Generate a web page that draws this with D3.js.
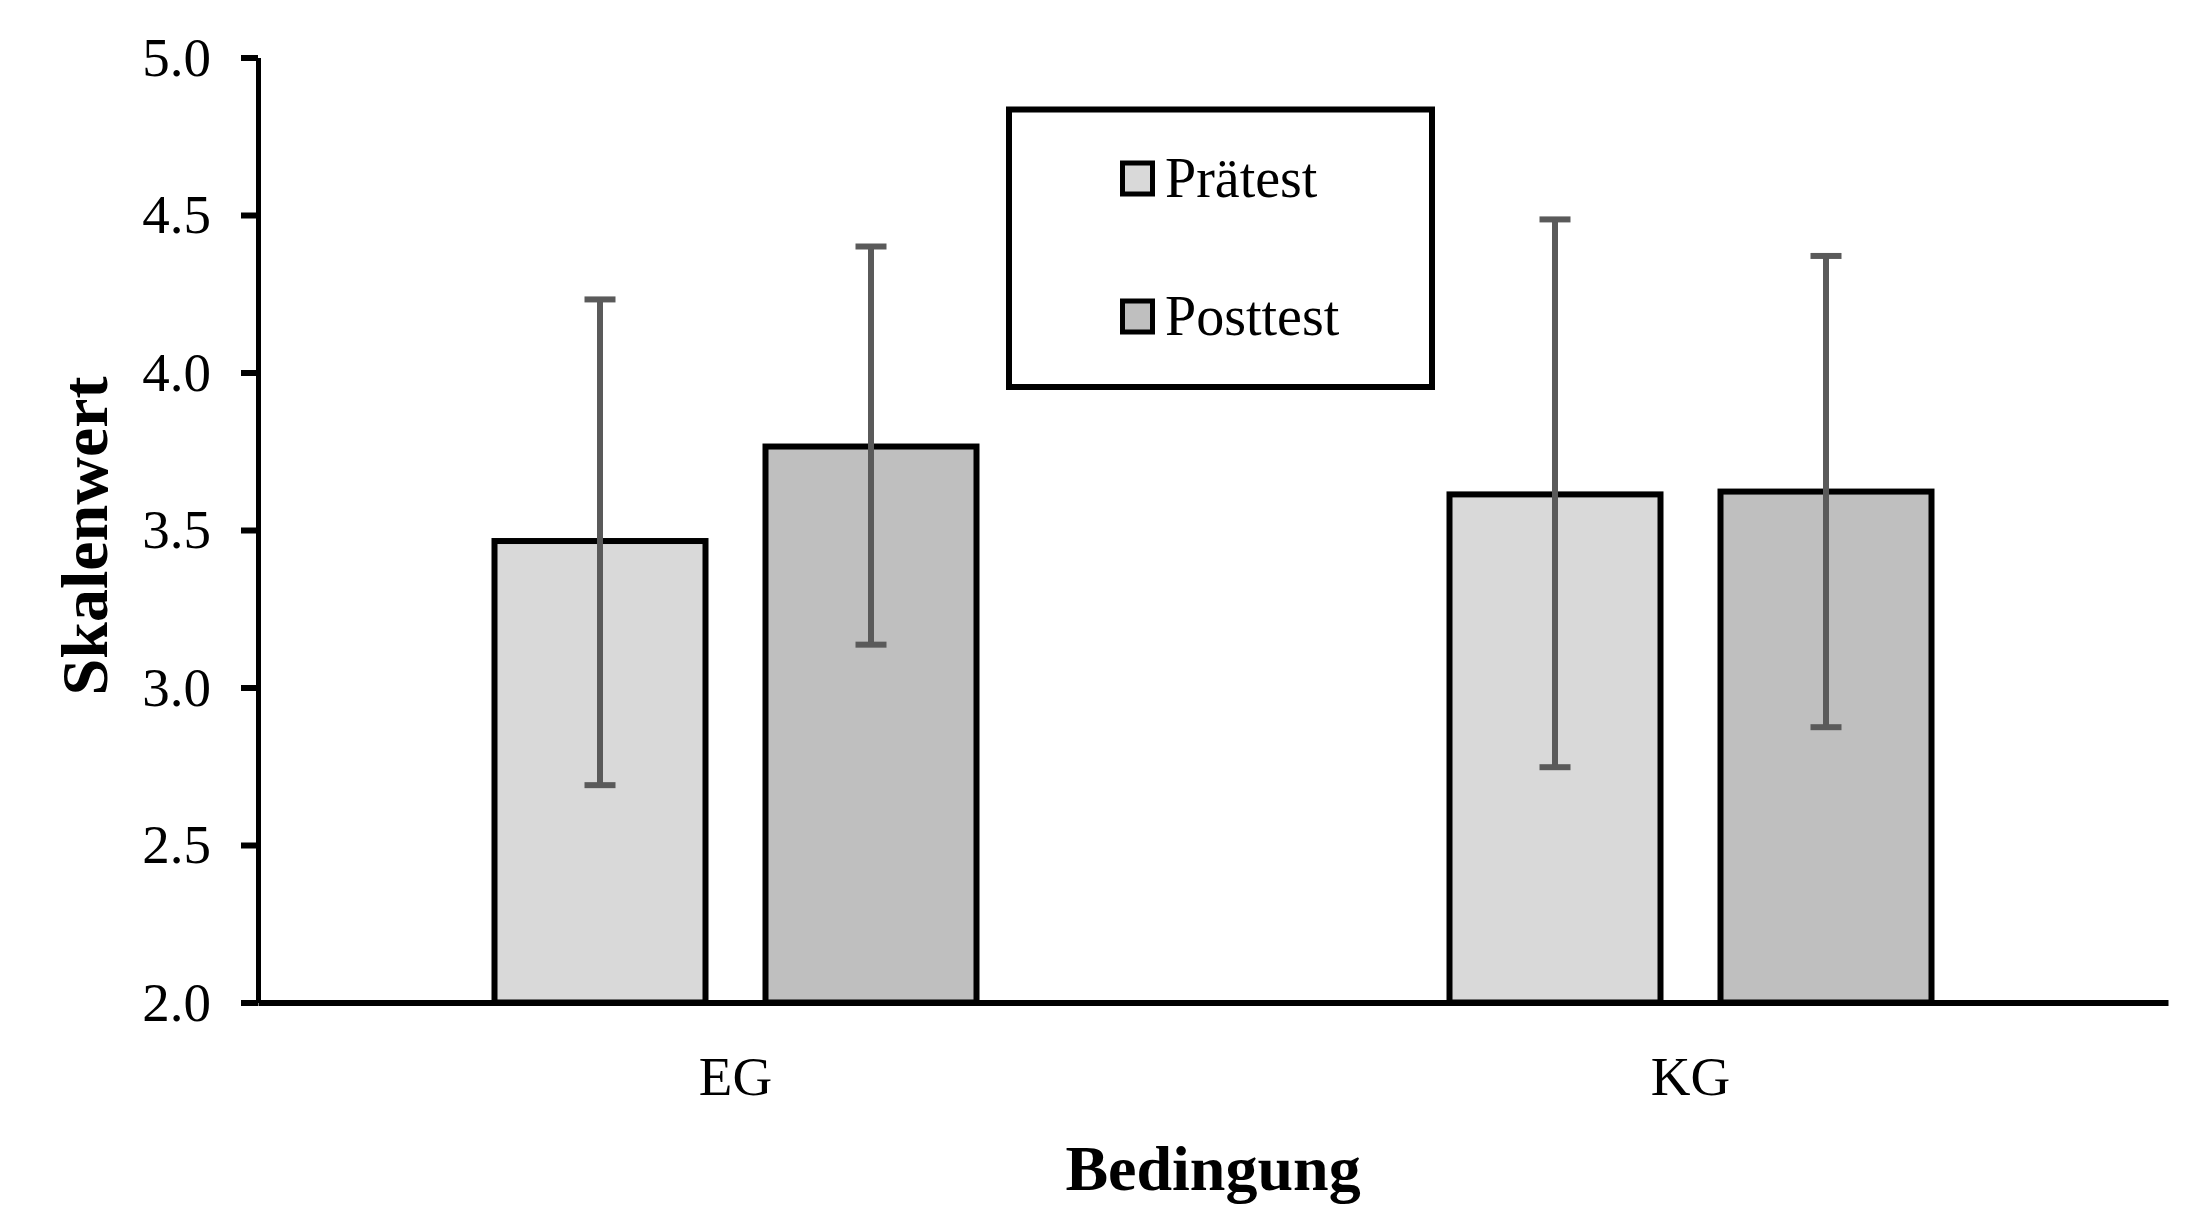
<!DOCTYPE html>
<html>
<head>
<meta charset="utf-8">
<script src="https://cdn.jsdelivr.net/npm/d3@7"></script>
<style>
  html, body { margin: 0; padding: 0; background: #fff; }
  svg { display: block; }
  text { font-family: "Liberation Serif", "Times New Roman", serif; fill: #000; }
</style>
</head>
<body>
<svg id="chart" width="2199" height="1207"></svg>
<script>
// ---- data ----
const categories = ["EG", "KG"];
const seriesNames = ["Prätest", "Posttest"];
const seriesColors = ["#d9d9d9", "#bfbfbf"];
const meanPre = [3.465, 3.613];
const meanPost = [3.765, 3.622];
const lowPre = [2.69, 2.747];
const lowPost = [3.136, 2.874];
const highPre = [4.232, 4.486];
const highPost = [4.40, 4.37];
const yTicks = [2.0, 2.5, 3.0, 3.5, 4.0, 4.5, 5.0];
const xTitle = "Bedingung";
const yTitle = "Skalenwert";

const rows = [];
categories.forEach((c, i) => {
  rows.push({cat: c, series: seriesNames[0], v: meanPre[i], lo: lowPre[i], hi: highPre[i]});
  rows.push({cat: c, series: seriesNames[1], v: meanPost[i], lo: lowPost[i], hi: highPost[i]});
});

const svg = d3.select("#chart");

const plotLeft = 258, plotRight = 2168, plotTop = 57.5, plotBottom = 1002.5;

const x = d3.scaleBand().domain(categories).range([plotLeft, plotRight]).padding(0);
const xInner = d3.scaleBand().domain(seriesNames).range([-241, 241]).paddingInner(60 / 271).paddingOuter(0);
const y = d3.scaleLinear().domain([2, 5]).range([plotBottom, plotTop]);
const color = d3.scaleOrdinal().domain(seriesNames).range(seriesColors);

// bars
svg.append("g").selectAll("rect").data(rows).join("rect")
  .attr("x", d => x(d.cat) + x.bandwidth() / 2 + xInner(d.series))
  .attr("y", d => y(d.v))
  .attr("width", xInner.bandwidth())
  .attr("height", d => y(2) - y(d.v))
  .attr("fill", d => color(d.series))
  .attr("stroke", "#000")
  .attr("stroke-width", 6);

// error bars
const eg = svg.append("g").attr("stroke", "#5a5a5a").attr("stroke-width", 6);
const cx = d => x(d.cat) + x.bandwidth() / 2 + xInner(d.series) + xInner.bandwidth() / 2;
eg.selectAll("line.v").data(rows).join("line").attr("class", "v")
  .attr("x1", cx).attr("x2", cx)
  .attr("y1", d => y(d.lo)).attr("y2", d => y(d.hi));
eg.selectAll("line.t").data(rows).join("line").attr("class", "t")
  .attr("x1", d => cx(d) - 15.5).attr("x2", d => cx(d) + 15.5)
  .attr("y1", d => y(d.hi)).attr("y2", d => y(d.hi));
eg.selectAll("line.b").data(rows).join("line").attr("class", "b")
  .attr("x1", d => cx(d) - 15.5).attr("x2", d => cx(d) + 15.5)
  .attr("y1", d => y(d.lo)).attr("y2", d => y(d.lo));

// y axis
const yAxis = svg.append("g").attr("transform", `translate(${plotLeft},0)`)
  .call(d3.axisLeft(y).tickValues(yTicks).tickFormat(d3.format(".1f"))
    .tickSize(17).tickSizeOuter(0).tickPadding(30));
yAxis.select(".domain").attr("stroke", "#000").attr("stroke-width", 5);
yAxis.selectAll(".tick line").attr("stroke", "#000").attr("stroke-width", 6);
yAxis.selectAll(".tick text").attr("font-size", 55)
  .attr("font-family", '"Liberation Serif", "Times New Roman", serif').attr("fill", "#000");

// x axis
const xAxis = svg.append("g").attr("transform", `translate(0,${plotBottom})`)
  .call(d3.axisBottom(x).tickSize(0).tickSizeOuter(0));
xAxis.select(".domain").attr("stroke", "#000").attr("stroke-width", 6);
xAxis.selectAll(".tick text").attr("font-size", 55).attr("dy", 0).attr("y", 92.5)
  .attr("font-family", '"Liberation Serif", "Times New Roman", serif').attr("fill", "#000");

// axis titles
svg.append("text")
  .attr("x", (plotLeft + plotRight) / 2).attr("y", 1190)
  .attr("text-anchor", "middle").attr("font-weight", "bold").attr("font-size", 64)
  .text(xTitle);
svg.append("text")
  .attr("transform", "translate(107,536) rotate(-90)")
  .attr("text-anchor", "middle").attr("font-weight", "bold").attr("font-size", 66)
  .text(yTitle);

// legend
const lg = svg.append("g");
lg.append("rect").attr("x", 1009).attr("y", 109.5).attr("width", 423).attr("height", 277.5)
  .attr("fill", "#fff").attr("stroke", "#000").attr("stroke-width", 6);
const legY = [197, 335];
seriesNames.forEach((s, i) => {
  lg.append("rect").attr("x", 1122.5).attr("y", legY[i] - 34)
    .attr("width", 30).attr("height", 31)
    .attr("fill", color(s)).attr("stroke", "#000").attr("stroke-width", 5);
  lg.append("text").attr("x", 1165).attr("y", legY[i])
    .attr("font-size", 56).text(s);
});
</script>
</body>
</html>
